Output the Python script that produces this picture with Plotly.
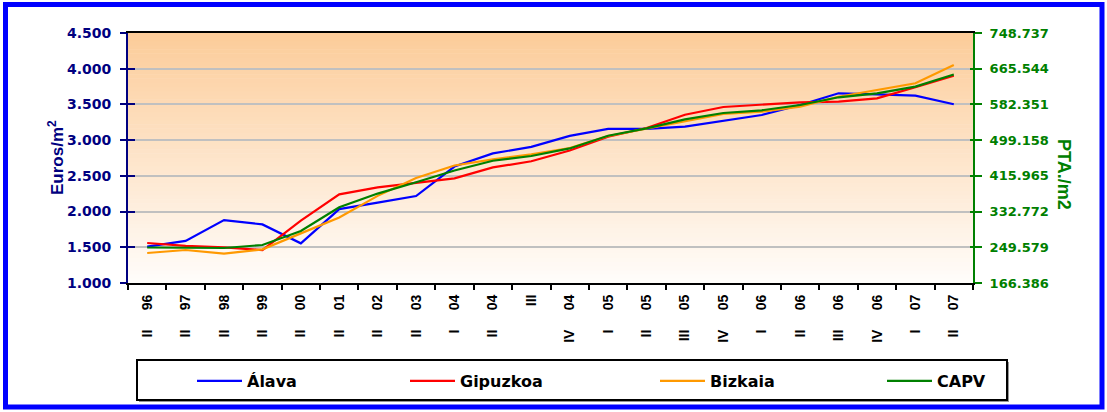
import plotly.graph_objects as go

# ---------------- data ----------------
periods = ["II 96", "II 97", "II 98", "II 99", "II 00", "II 01", "II 02", "II 03",
           "I 04", "II 04", "III", "IV 04", "I 05", "II 05", "III 05", "IV 05",
           "I 06", "II 06", "III 06", "IV 06", "I 07", "II 07"]

alava    = [1510, 1590, 1880, 1820, 1555, 2035, 2125, 2218, 2630, 2815, 2905, 3060,
            3158, 3158, 3188, 3272, 3352, 3492, 3656, 3642, 3622, 3502]
gipuzkoa = [1560, 1520, 1500, 1462, 1872, 2241, 2339, 2405, 2465, 2618, 2704, 2855,
            3048, 3170, 3356, 3464, 3492, 3530, 3538, 3586, 3740, 3902]
bizkaia  = [1420, 1462, 1410, 1471, 1695, 1917, 2220, 2470, 2645, 2731, 2801, 2890,
            3058, 3160, 3272, 3366, 3398, 3468, 3608, 3702, 3796, 4052]
capv     = [1497, 1497, 1490, 1532, 1728, 2060, 2252, 2410, 2575, 2712, 2778, 2884,
            3062, 3165, 3290, 3380, 3418, 3492, 3600, 3656, 3750, 3920]

series_names = ["Álava", "Gipuzkoa", "Bizkaia", "CAPV"]
series_values = [alava, gipuzkoa, bizkaia, capv]

euro_ticks = [1000, 1500, 2000, 2500, 3000, 3500, 4000, 4500]
PTA_PER_EURO = 166.386
pta_ticks = [v * PTA_PER_EURO for v in euro_ticks]
pta_labels = [f"{round(v):,}".replace(",", ".") for v in pta_ticks]

# ---------------- styling ----------------
colors = ["#0000FF", "#FF0000", "#FF9900", "#008000"]
legend_text_px = [245, 458, 708, 935]   # where each legend label starts
W, H = 1107, 412
L, R, T, B = 128, 134, 33, 129
PW, PH = W - L - R, H - T - B


def px(x):
    return (x - L) / PW


def py(y):
    return (H - B - y) / PH


# rotated labels: keep spacing like the original
tick_text = []
for p in periods:
    parts = p.split(" ")
    if len(parts) == 2:
        tick_text.append(parts[0] + "\u00a0" * 5 + parts[1])
    else:
        tick_text.append(p)

HFONT = "DejaVu Sans"
RFONT = "Liberation Sans, Arial"

fig = go.Figure()
legend_layouts = {}
for i, (name, vals, col) in enumerate(zip(series_names, series_values, colors)):
    lg = "legend" if i == 0 else f"legend{i + 1}"
    fig.add_trace(go.Scatter(x=periods, y=vals, name=name, mode="lines",
                             line=dict(color=col, width=2.2), legend=lg))
    legend_layouts[lg] = dict(
        orientation="h", x=px(legend_text_px[i] - 53), xanchor="left",
        y=py(381), yanchor="middle", itemwidth=45,
        bgcolor="rgba(0,0,0,0)", borderwidth=0,
        font=dict(family=HFONT, size=16, color="black", weight="bold"))

# empty traces so that the secondary axes get drawn (no marks)
for ax in ["y2", "y3", "y4"]:
    fig.add_trace(go.Scatter(x=[], y=[], yaxis=ax, showlegend=False,
                             hoverinfo="skip", mode="lines"))

shapes = []
# gradient background in plot area
N = 60
top = (252, 204, 153)
bot = (255, 253, 251)
for k in range(N):
    t = (k + 0.5) / N  # 0 bottom -> 1 top
    c = tuple(round(bot[i] + (top[i] - bot[i]) * t) for i in range(3))
    shapes.append(dict(type="rect", xref="paper", yref="paper",
                       x0=0, x1=1, y0=k / N, y1=(k + 1) / N + 0.002,
                       fillcolor=f"rgb{c}", line=dict(width=0), layer="below"))
# legend box with shadow
shapes.append(dict(type="rect", xref="paper", yref="paper",
                   x0=px(139), x1=px(1009), y0=py(402), y1=py(362),
                   fillcolor="rgba(150,150,150,1)", line=dict(width=0), layer="below"))
shapes.append(dict(type="rect", xref="paper", yref="paper",
                   x0=px(137), x1=px(1007), y0=py(400), y1=py(360),
                   fillcolor="white", line=dict(color="black", width=2), layer="below"))
# blue outer frame
shapes.append(dict(type="rect", xref="paper", yref="paper",
                   x0=px(5.5), x1=px(1102), y0=py(407), y1=py(4.5),
                   fillcolor="rgba(0,0,0,0)", line=dict(color="#0000FF", width=5),
                   layer="above"))

fig.update_layout(
    width=W, height=H,
    margin=dict(l=L, r=R, t=T, b=B, autoexpand=False),
    paper_bgcolor="white", plot_bgcolor="white",
    separators=",.",
    showlegend=True,
    shapes=shapes,
    xaxis=dict(type="category", range=[-0.5, len(periods) - 0.5],
               tickmode="array", tickvals=periods, ticktext=tick_text,
               tickangle=-90, tickson="boundaries",
               ticks="outside", ticklen=5, tickwidth=2, tickcolor="black",
               showline=True, linecolor="black", linewidth=2, mirror=True,
               showgrid=False, ticklabelstandoff=4,
               tickfont=dict(family=RFONT, size=14, color="black", weight="bold")),
    yaxis=dict(range=[euro_ticks[0], euro_ticks[-1]], tickmode="array",
               tickvals=euro_ticks, tickformat=",d",
               ticks="outside", ticklen=6, tickwidth=2, tickcolor="#000080",
               showline=True, linecolor="#000080", linewidth=2,
               showgrid=True, gridcolor="#C0C0C0", gridwidth=2,
               zeroline=False, ticklabelstandoff=6,
               tickfont=dict(family=HFONT, size=14, color="#000080", weight="bold")),
    yaxis2=dict(range=[pta_ticks[0], pta_ticks[-1]], overlaying="y", side="right",
                anchor="x", tickmode="array", tickvals=pta_ticks, ticktext=pta_labels,
                ticks="outside", ticklen=7, tickwidth=2, tickcolor="#008000",
                showline=True, linecolor="#008000", linewidth=2,
                showgrid=False, zeroline=False, ticklabelstandoff=5,
                tickfont=dict(family=HFONT, size=13, color="#008000", weight="bold")),
    yaxis3=dict(range=[euro_ticks[0], euro_ticks[-1]], overlaying="y", side="left",
                anchor="x", tickmode="array", tickvals=euro_ticks,
                ticks="inside", ticklen=7, tickwidth=2, tickcolor="#000080",
                showticklabels=False, showline=False, showgrid=False, zeroline=False),
    yaxis4=dict(range=[pta_ticks[0], pta_ticks[-1]], overlaying="y", side="right",
                anchor="x", tickmode="array", tickvals=pta_ticks,
                ticks="inside", ticklen=3, tickwidth=2, tickcolor="#008000",
                showticklabels=False, showline=False, showgrid=False, zeroline=False),
    annotations=[
        dict(text="Euros/m<sup>2</sup>", xref="paper", yref="paper",
             x=px(56), y=py(158), xanchor="center", yanchor="middle",
             textangle=-90, showarrow=False,
             font=dict(family=RFONT, size=17, color="#000080", weight="bold")),
        dict(text="PTA./m2", xref="paper", yref="paper",
             x=px(1064), y=py(174), xanchor="center", yanchor="middle",
             textangle=90, showarrow=False,
             font=dict(family=RFONT, size=18, color="#008000", weight="bold")),
    ],
    **legend_layouts,
)

fig.write_html("out.html",
               config={"displayModeBar": False},
               post_script="document.body.style.margin='0';"
                           "document.body.style.padding='0';"
                           "document.body.style.overflow='hidden';")
